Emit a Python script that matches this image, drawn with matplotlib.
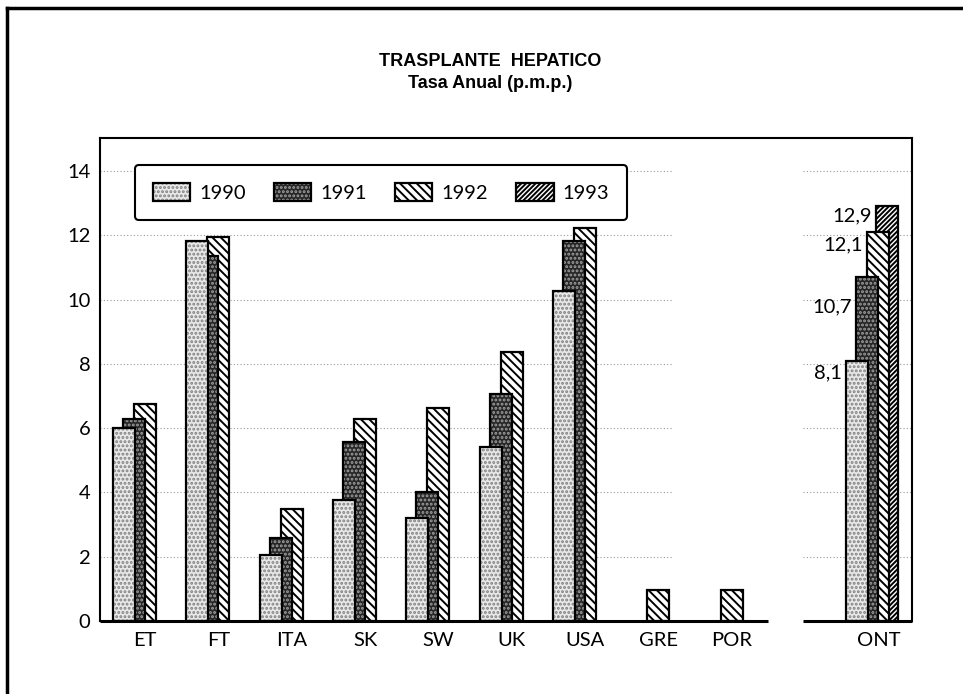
import numpy as np
import matplotlib.pyplot as plt
from matplotlib.lines import Line2D

# datos (tasa anual p.m.p.)
paises = ['ET', 'FT', 'ITA', 'SK', 'SW', 'UK', 'USA', 'GRE', 'POR', 'ONT']
xpos = np.array([0, 1, 2, 3, 4, 5, 6, 7, 8, 10])
v1990 = [6.0, 11.83, 2.05, 3.76, 3.2, 5.4, 10.27, np.nan, np.nan, 8.1]
v1991 = [6.3, 11.36, 2.57, 5.58, 4.0, 7.06, 11.82, np.nan, np.nan, 10.7]
v1992 = [6.75, 11.94, 3.48, 6.28, 6.64, 8.38, 12.22, 0.97, 0.97, 12.1]
v1993 = [np.nan] * 9 + [12.9]
anios = ['1990', '1991', '1992', '1993']
ont_valores = [8.1, 10.7, 12.1, 12.9]

plt.rcParams['hatch.linewidth'] = 1.4
fuente = 'Lato'

fig = plt.figure(figsize=(9.63, 6.94), dpi=100)
ax = fig.add_axes([100/963, 73/694, 812/963, 483/694])

w = 0.30
offs = [-0.285, -0.15, 0.0, 0.125]
estilos = [('#e8e8e8', '#808080', '....'),
           ('#262626', '#a0a0a0', '....'),
           ('white', 'black', '\\\\\\\\'),
           ('white', 'black', '///////')]
series = [v1990, v1991, v1992, v1993]

# la serie 1990 queda delante, 1993 detras
handles = [None] * 4
for i in [3, 2, 1, 0]:
    serie = np.array(series[i])
    fc, hc, ht = estilos[i]
    m = ~np.isnan(serie)
    b1 = ax.bar(xpos[m] + offs[i], serie[m], width=w, color=fc, edgecolor=hc,
                hatch=ht, linewidth=0, zorder=2)
    b2 = ax.bar(xpos[m] + offs[i], serie[m], width=w, fill=False,
                edgecolor='black', linewidth=1.6, zorder=2)
    handles[i] = (b1[0], b2[0])

# etiquetas de ONT
dy = [-12, -30, -13, -9]
for v, off, d in zip(ont_valores, offs, dy):
    ax.annotate(str(v).replace('.', ','), xy=(10 + off - w/2, v),
                xytext=(-3, d * 0.72), textcoords='offset points',
                ha='right', va='center', fontsize=14.5, family=fuente)

ax.set_xlim(-0.614, 10.46)
ax.set_ylim(0, 15.03)
ax.set_yticks(range(0, 15, 2))
ax.set_xticks(xpos, labels=paises)
ax.tick_params(length=0, labelsize=14.5)
ax.tick_params(axis='y', pad=7)
ax.tick_params(axis='x', pad=8)
for lab in ax.get_xticklabels() + ax.get_yticklabels():
    lab.set_family(fuente)

# rejilla punteada
for y in range(2, 15, 2):
    ax.hlines(y, -0.614, 7.2, colors='#999999', linestyles=(0, (1, 2)),
              linewidth=0.8, zorder=1)
    ax.hlines(y, 8.98, 10.46, colors='#999999', linestyles=(0, (1, 2)),
              linewidth=0.8, zorder=1)

for s in ['left', 'top', 'right']:
    ax.spines[s].set_linewidth(1.5)
ax.spines['bottom'].set_visible(False)
ax.hlines(0, -0.614, 8.49, colors='black', linewidth=2.2, clip_on=False, zorder=3)
ax.hlines(0, 8.98, 10.46, colors='black', linewidth=2.2, clip_on=False, zorder=3)

leg = ax.legend(handles, anios, ncol=4, loc='upper left',
                bbox_to_anchor=(0.043, 0.944), frameon=True, fancybox=True,
                prop={'family': fuente, 'size': 14.5}, handlelength=1.85,
                handleheight=1.0, handletextpad=0.45, columnspacing=1.4,
                borderpad=0.9, borderaxespad=0)
leg.get_frame().set_edgecolor('black')
leg.get_frame().set_linewidth(1.5)
leg.get_frame().set_alpha(1)

fig.text(490/963, 1 - 61/694, 'TRASPLANTE  HEPATICO', ha='center', va='center',
         fontsize=13, fontweight='bold', family='Liberation Sans')
fig.text(490/963, 1 - 83/694, 'Tasa Anual (p.m.p.)', ha='center', va='center',
         fontsize=13, fontweight='bold', family='Liberation Sans')

# marco de la pagina
fig.add_artist(Line2D([7/963, 7/963], [0, 1 - 8/694], transform=fig.transFigure,
                      color='black', linewidth=2.5))
fig.add_artist(Line2D([7/963, 1], [1 - 8/694, 1 - 8/694], transform=fig.transFigure,
                      color='black', linewidth=2.5))

plt.savefig('out.png', dpi=100)
plt.close()
